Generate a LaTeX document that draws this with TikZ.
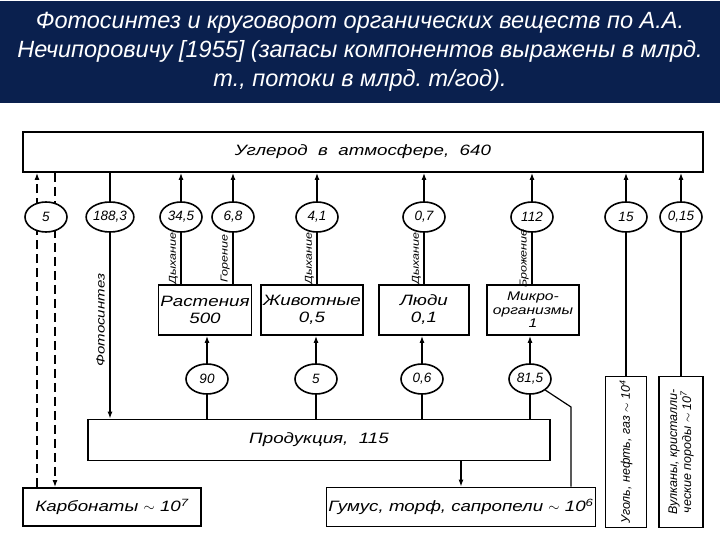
\documentclass[tikz,border=0pt]{standalone}
\usepackage{fontspec}
\setmainfont{Liberation Sans}
\newfontfamily\drawfont[FakeStretch=1.25]{Liberation Sans}
\usetikzlibrary{shapes.geometric,arrows.meta,backgrounds}
\definecolor{navy}{RGB}{10,32,78}
\frenchspacing

\begin{document}
\begin{tikzpicture}[
  x=1pt, y=-1pt,
  box/.style  = {draw, line width=1.8pt, align=center, fill=white, inner sep=2pt,
                 font=\drawfont\itshape\fontsize{15}{17}\selectfont},
  flux/.style = {ellipse, draw, line width=1.6pt, fill=white, inner sep=0pt,
                 minimum width=42pt, minimum height=30pt,
                 font=\itshape\fontsize{13.5}{15}\selectfont},
  arr/.style  = {-{Latex[length=7pt,width=5pt]}, line width=1.2pt},
  ln/.style   = {line width=1.2pt},
  lbl/.style  = {rotate=90, anchor=south, inner sep=3pt,
                 font=\drawfont\itshape\fontsize{10}{12}\selectfont},
]
\useasboundingbox (0,0) rectangle (720,540);

% ---- title band ----
\node[fill=navy, text=white, minimum width=720pt, minimum height=102pt, inner sep=0pt,
      align=center, font=\itshape\fontsize{23.5}{29}\selectfont] (title) at (360,52)
  {Фотосинтез и круговорот органических веществ по А.А.\\
   Нечипоровичу [1955] (запасы компонентов выражены в млрд.\\
   т., потоки в млрд. т/год).};

% ---- atmosphere ----
\node[box, minimum width=680pt, minimum height=40pt] (atm) at (363,152)
  {Углерод\ \ в\ \ атмосфере,\ \ 640};

% ---- upper flux ovals ----
\node[flux] (f5)    at (46,217)  {5};
\node[flux] (f1883) at (110,217) {188,3};
\node[flux] (f345)  at (181,217) {34,5};
\node[flux] (f68)   at (233,217) {6,8};
\node[flux] (f41)   at (317,217) {4,1};
\node[flux] (f07)   at (424,217) {0,7};
\node[flux] (f112)  at (532,217) {112};
\node[flux] (f15)   at (626,217) {15};
\node[flux] (f015)  at (681,217) {0,15};

% ---- organisms ----
\node[box, minimum width=86pt, minimum height=50pt] (pl) at (205,310) {Растения\\500};
\node[box, minimum width=86pt, minimum height=50pt] (an) at (312,310) {Животные\\0,5};
\node[box, minimum width=90pt, minimum height=50pt] (hu) at (424,310) {Люди\\0,1};
\node[box, minimum width=92pt, minimum height=50pt,
      font=\drawfont\itshape\fontsize{12.5}{13.5}\selectfont] (mi) at (533,310)
  {Микро-\\организмы\\1};

% ---- lower flux ovals ----
\node[flux] (g90)  at (207,379) {90};
\node[flux] (g5)   at (316,379) {5};
\node[flux] (g06)  at (422,379) {0,6};
\node[flux] (g815) at (530,379) {81,5};

% ---- production and stores ----
\node[box, minimum width=462pt, minimum height=41pt] (prod) at (319,440) {Продукция,\ \ 115};
\node[box, minimum width=178pt, minimum height=38pt] (carb) at (112,507)
  {Карбонаты $\sim$ 10\textsuperscript{7}};
\node[box, minimum width=256pt, minimum height=39pt] (hum) at (461,507)
  {Гумус, торф, сапропели $\sim$ 10\textsuperscript{6}};
\node[box, rotate=90, minimum width=151pt, minimum height=41pt,
      font=\itshape\fontsize{12.5}{14}\selectfont] (coal) at (626,452)
  {Уголь, нефть, газ $\sim$ 10\textsuperscript{4}};
\node[box, rotate=90, minimum width=151pt, minimum height=44pt,
      font=\itshape\fontsize{12.5}{14}\selectfont] (volc) at (681,452)
  {Вулканы, кристалли-\\ческие породы $\sim$ 10\textsuperscript{7}};

\coordinate (dl) at ([xshift=-9pt]f5.center);
\coordinate (dr) at ([xshift=9pt]f5.center);
\coordinate (bend) at (571,407);

% ---- edges (behind the ovals) ----
\begin{scope}[on background layer]
\draw[arr, dash pattern=on 9pt off 5pt] (dl |- carb.north) -- (dl |- atm.south);
\draw[arr, dash pattern=on 9pt off 5pt] (dr |- atm.south) -- (dr |- carb.north);
\draw[arr] (f1883 |- atm.south) -- (f1883 |- prod.north);
\draw[arr] (f345 |- pl.north) -- (f345 |- atm.south);
\draw[arr] (f68 |- pl.north)  -- (f68 |- atm.south);
\draw[arr] (f41 |- an.north)  -- (f41 |- atm.south);
\draw[arr] (f07 |- hu.north)  -- (f07 |- atm.south);
\draw[arr] (f112 |- mi.north) -- (f112 |- atm.south);
\draw[arr] (coal.east) -- (coal.east |- atm.south);
\draw[arr] (volc.east) -- (volc.east |- atm.south);

\draw[arr] (g90 |- prod.north)  -- (g90 |- pl.south);
\draw[arr] (g5 |- prod.north)   -- (g5 |- an.south);
\draw[arr] (g06 |- prod.north)  -- (g06 |- hu.south);
\draw[arr] (g815 |- prod.north) -- (g815 |- mi.south);
\draw[arr] (prod.south -| hum.north) -- (hum.north);
\draw[ln] (g815.south east) -- (bend) -- (bend |- hum.north);
\end{scope}

% ---- edge labels ----
\path (f1883.south) -- node[lbl, pos=0.47, inner sep=5pt,
  font=\drawfont\itshape\fontsize{12}{14}\selectfont] {Фотосинтез} (f1883 |- prod.north);
\path (f345 |- pl.north) -- node[lbl, midway] {Дыхание}  (f345.south);
\path (f68 |- pl.north)  -- node[lbl, midway] {Горение}  (f68.south);
\path (f41 |- an.north)  -- node[lbl, midway] {Дыхание}  (f41.south);
\path (f07 |- hu.north)  -- node[lbl, midway] {Дыхание}  (f07.south);
\path (f112 |- mi.north) -- node[lbl, midway] {Брожение} (f112.south);

\end{tikzpicture}
\end{document}
